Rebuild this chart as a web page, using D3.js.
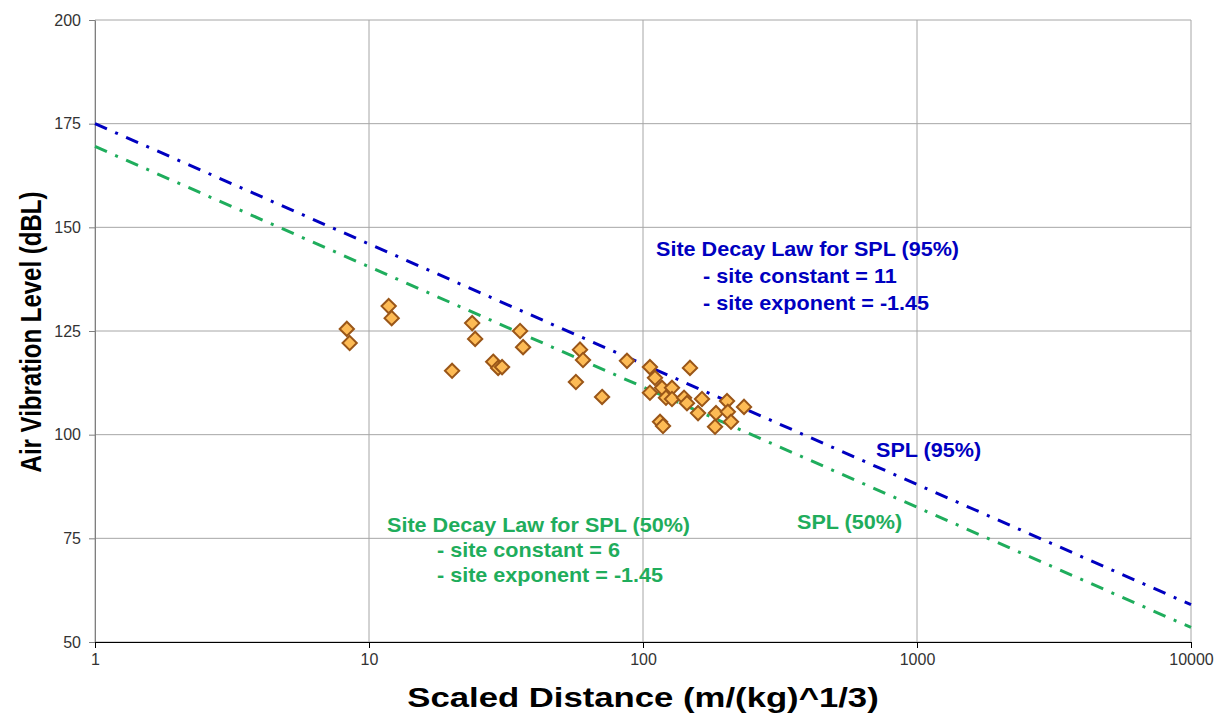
<!DOCTYPE html>
<html>
<head>
<meta charset="utf-8">
<script src="https://cdn.jsdelivr.net/npm/d3@7"></script>
<style>
  body { margin: 0; background: #fff; }
  svg { font-family: "Liberation Sans", Arial, sans-serif; }
</style>
</head>
<body>
<div class="chart"></div>
<script>
// tick labels
const xTicks = [1, 10, 100, 1000, 10000];
const yTicks = [50, 75, 100, 125, 150, 175, 200];

// measured points: scaled distance, air vibration level (dBL)
const distances = [8.3, 8.5, 11.8, 12.1, 20.1, 23.8, 24.4, 28.4, 29.6, 30.6, 35.6, 36.5,
  56.9, 58.9, 60.4, 70.9, 87.4, 106, 110.6, 117.3, 106, 127.6, 121.3, 127.6, 148.4,
  141.2, 144.7, 164.2, 158.8, 115.4, 118.3, 183.2, 184.7, 202.6, 204, 209.5, 233.7];
const levels = [125.5, 122.1, 131.0, 128.1, 115.4, 126.9, 123.1, 117.6, 116.1, 116.3, 125.0, 121.1,
  112.7, 120.5, 118.0, 109.1, 117.8, 116.3, 113.7, 111.3, 110.1, 111.3, 108.9, 108.6, 116.1,
  108.9, 107.6, 108.6, 105.2, 103.1, 102.1, 101.9, 105.2, 108.1, 105.5, 103.1, 106.7];

// site law lines (endpoints)
const line95X = [1, 10000];
const line95Y = [175, 59];
const line50X = [1, 10000];
const line50Y = [169.5, 53.5];

const width = 1223, height = 714;
const margin = { top: 20, right: 32, bottom: 72, left: 95 };

const blue = "#0000c0";
const green = "#1fad5c";

const svg = d3.select(".chart").append("svg")
  .attr("width", width)
  .attr("height", height);

const x = d3.scaleLog()
  .domain([1, 10000])
  .range([margin.left, width - margin.right]);

const y = d3.scaleLinear()
  .domain([50, 200])
  .range([height - margin.bottom, margin.top]);

//gridlines
svg.append("g")
  .selectAll("line")
  .data(yTicks)
  .enter()
  .append("line")
  .attr("x1", margin.left)
  .attr("x2", width - margin.right)
  .attr("y1", d => y(d))
  .attr("y2", d => y(d))
  .attr("stroke", "#a6a6a6")
  .attr("stroke-width", 1);

svg.append("g")
  .selectAll("line")
  .data(xTicks)
  .enter()
  .append("line")
  .attr("x1", d => x(d))
  .attr("x2", d => x(d))
  .attr("y1", margin.top)
  .attr("y2", height - margin.bottom)
  .attr("stroke", "#a6a6a6")
  .attr("stroke-width", 1);

//y axis
const yAxis = d3.axisLeft(y)
  .tickValues(yTicks)
  .tickSizeInner(6)
  .tickSizeOuter(0)
  .tickPadding(8);

const gy = svg.append("g")
  .attr("transform", "translate(" + margin.left + ",0)")
  .call(yAxis);
gy.select(".domain").attr("stroke", "#7f7f7f");
gy.selectAll(".tick line").attr("stroke", "#7f7f7f");
gy.selectAll("text")
  .attr("font-size", 16)
  .attr("fill", "#333")
  .attr("font-family", "Liberation Sans, Arial, sans-serif");

//x axis
const xAxis = d3.axisBottom(x)
  .tickValues(xTicks)
  .tickFormat(d3.format("d"))
  .tickSizeInner(6)
  .tickSizeOuter(0)
  .tickPadding(6);

const gx = svg.append("g")
  .attr("transform", "translate(0," + (height - margin.bottom) + ")")
  .call(xAxis);
gx.select(".domain").attr("stroke", "#000");
gx.selectAll(".tick line").attr("stroke", "#000");
gx.selectAll("text")
  .attr("font-size", 16)
  .attr("fill", "#333")
  .attr("font-family", "Liberation Sans, Arial, sans-serif");

//axis titles (the original picture is stretched sideways a bit)
svg.append("text")
  .attr("transform", "translate(41,332) rotate(-90) scale(1,1.2)")
  .attr("text-anchor", "middle")
  .attr("font-size", 24)
  .attr("font-weight", "bold")
  .text("Air Vibration Level (dBL)");

svg.append("text")
  .attr("transform", "translate(" + x(100) + ",707) scale(1.24,1)")
  .attr("text-anchor", "middle")
  .attr("font-size", 28)
  .attr("font-weight", "bold")
  .text("Scaled Distance (m/(kg)^1/3)");

//law lines
const line = d3.line()
  .x(d => x(d[0]))
  .y(d => y(d[1]));

svg.append("path")
  .attr("d", line(d3.zip(line50X, line50Y)))
  .attr("fill", "none")
  .attr("stroke", green)
  .attr("stroke-width", 3)
  .attr("stroke-dasharray", "13,9,3,9");

svg.append("path")
  .attr("d", line(d3.zip(line95X, line95Y)))
  .attr("fill", "none")
  .attr("stroke", blue)
  .attr("stroke-width", 3)
  .attr("stroke-dasharray", "13,9,3,9");

//points
const diamond = d3.symbol().type(d3.symbolDiamond2).size(130);

svg.append("g")
  .selectAll("path")
  .data(d3.zip(distances, levels))
  .enter()
  .append("path")
  .attr("d", diamond)
  .attr("transform", d => "translate(" + x(d[0]) + "," + y(d[1]) + ")")
  .attr("fill", "#fdbb55")
  .attr("stroke", "#9a5618")
  .attr("stroke-width", 2);

//annotations
function block(lines, color) {
  const g = svg.append("g")
    .attr("fill", color)
    .attr("font-size", 20)
    .attr("font-weight", "bold");
  g.selectAll("text")
    .data(lines)
    .enter()
    .append("text")
    .attr("transform", d => "translate(" + d[0] + "," + d[1] + ") scale(1.08,1)")
    .text(d => d[2]);
}

block([
  [656, 256, "Site Decay Law for SPL (95%)"],
  [703, 283, "- site constant = 11"],
  [703, 310, "- site exponent = -1.45"],
  [876, 457, "SPL (95%)"]
], blue);

block([
  [387, 532, "Site Decay Law for SPL (50%)"],
  [437, 557, "- site constant = 6"],
  [437, 582, "- site exponent = -1.45"],
  [797, 529, "SPL (50%)"]
], green);
</script>
</body>
</html>
